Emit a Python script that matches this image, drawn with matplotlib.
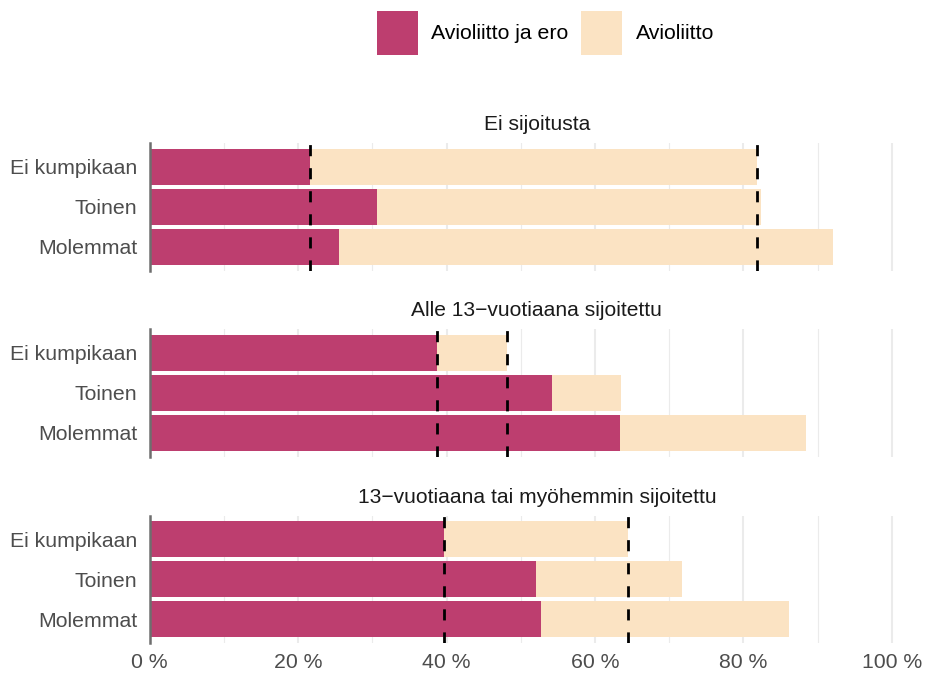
import matplotlib.pyplot as plt
from matplotlib.patches import Patch
from matplotlib.ticker import MultipleLocator

plt.rcParams['font.family'] = ['Liberation Sans', 'DejaVu Sans']

# data: share (%) married, and married-and-divorced, by parents' placement
categories = ['Ei kumpikaan', 'Toinen', 'Molemmat']
panels = ['Ei sijoitusta', 'Alle 13\u2212vuotiaana sijoitettu',
          '13\u2212vuotiaana tai myöhemmin sijoitettu']
ero = [[21.6, 30.6, 25.5],
       [38.7, 54.2, 63.4],
       [39.7, 52.1, 52.7]]
avio = [[81.8, 82.4, 92.1],
        [48.2, 63.5, 88.4],
        [64.5, 71.7, 86.2]]
xticks = [0, 20, 40, 60, 80, 100]

pink = '#BD3E6F'
beige = '#FBE3C3'
W, H = 925, 674

fig = plt.figure(figsize=(W / 100, H / 100), dpi=100)

# panel tops and bottoms in pixels
rows = [(143, 270.5), (329, 456.5), (515.5, 643)]
left, right = 149.7, 924

for i, (top, bot) in enumerate(rows):
    ax = fig.add_axes([left / W, 1 - bot / H, (right - left) / W, (bot - top) / H])
    y = range(len(categories))
    ax.barh(y, avio[i], height=0.9, color=beige, zorder=2)
    ax.barh(y, ero[i], height=0.9, color=pink, zorder=3)
    # reference lines at the "Ei kumpikaan" values
    for v in (ero[i][0], avio[i][0]):
        ax.axvline(v, color='black', lw=2.0, ls=(0, (4, 4.3)), zorder=4)

    ax.set_xlim(0, (right - left) / 7.42)
    ax.set_ylim(2.6, -0.6)
    ax.set_yticks(list(y))
    ax.set_yticklabels(categories)
    ax.xaxis.set_major_locator(MultipleLocator(20))
    ax.xaxis.set_minor_locator(MultipleLocator(10))
    ax.set_xticks(xticks)
    ax.grid(axis='x', which='major', color='#EBEBEB', lw=1.5, zorder=0)
    ax.grid(axis='x', which='minor', color='#EBEBEB', lw=0.8, zorder=0)
    ax.set_axisbelow(True)
    for s in ('top', 'right', 'bottom'):
        ax.spines[s].set_visible(False)
    ax.spines['left'].set_color('#6E6E6E')
    ax.spines['left'].set_linewidth(1.8)
    ax.spines['left'].set_zorder(5)
    ax.tick_params(axis='both', which='both', length=0, labelsize=15.3,
                   labelcolor='#4D4D4D')
    ax.tick_params(axis='y', pad=9)
    ax.tick_params(axis='x', pad=7)
    if i < 2:
        ax.set_xticklabels([])
    else:
        ax.set_xticklabels([f'{t} %' for t in xticks])
    ax.set_title(panels[i], fontsize=15.1, color='#1A1A1A', pad=9)

handles = [Patch(facecolor=pink, label='Avioliitto ja ero'),
           Patch(facecolor=beige, label='Avioliitto')]
fig.legend(handles=handles, loc='upper center', bbox_to_anchor=(545.5 / W, 1 - 11 / H),
           ncol=2, frameon=False, fontsize=15.3, handlelength=1.9, handleheight=2.8,
           handletextpad=0.65, columnspacing=0.6, borderpad=0, borderaxespad=0)

fig.savefig('out.png', dpi=100)
